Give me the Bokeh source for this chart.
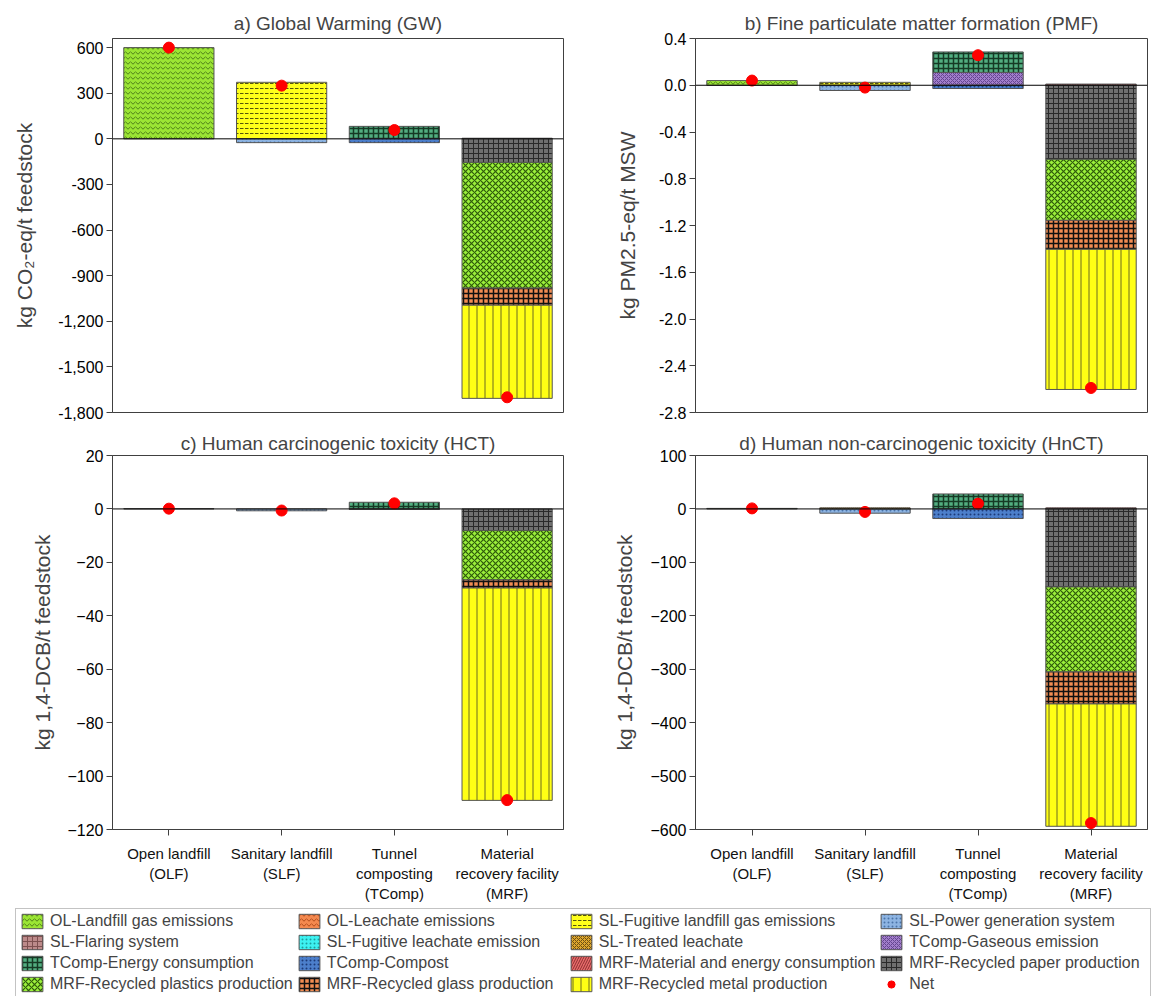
from bokeh.plotting import figure
from bokeh.models import (Range1d, FactorRange, FixedTicker, NumeralTickFormatter,
                          Span, Legend, LegendItem, ColumnDataSource)
from bokeh.layouts import column, row
from bokeh.embed import file_html
from bokeh.resources import INLINE

FONT = "Liberation Sans"

# ---------------- data ----------------
categories = ["Open landfill\n(OLF)", "Sanitary landfill\n(SLF)",
              "Tunnel\ncomposting\n(TComp)", "Material\nrecovery facility\n(MRF)"]

series = ["OL-Landfill gas emissions", "OL-Leachate emissions",
          "SL-Fugitive landfill gas emissions", "SL-Power generation system",
          "SL-Flaring system", "SL-Fugitive leachate emission", "SL-Treated leachate",
          "TComp-Gaseous emission", "TComp-Energy consumption", "TComp-Compost",
          "MRF-Material and energy consumption", "MRF-Recycled paper production",
          "MRF-Recycled plastics production", "MRF-Recycled glass production",
          "MRF-Recycled metal production"]

# values per series for [OLF, SLF, TComp, MRF]
gw_values = {
    "OL-Landfill gas emissions": [600, 0, 0, 0],
    "SL-Fugitive landfill gas emissions": [0, 372, 0, 0],
    "SL-Power generation system": [0, -25, 0, 0],
    "TComp-Energy consumption": [0, 0, 82, 0],
    "TComp-Compost": [0, 0, -25, 0],
    "MRF-Material and energy consumption": [0, 0, 0, 4],
    "MRF-Recycled paper production": [0, 0, 0, -155],
    "MRF-Recycled plastics production": [0, 0, 0, -827],
    "MRF-Recycled glass production": [0, 0, 0, -112],
    "MRF-Recycled metal production": [0, 0, 0, -613],
}
gw_net = [600, 350, 58, -1700]

pmf_values = {
    "OL-Landfill gas emissions": [0.04, 0, 0, 0],
    "SL-Fugitive landfill gas emissions": [0, 0.025, 0, 0],
    "SL-Power generation system": [0, -0.045, 0, 0],
    "TComp-Gaseous emission": [0, 0, 0.11, 0],
    "TComp-Energy consumption": [0, 0, 0.175, 0],
    "TComp-Compost": [0, 0, -0.028, 0],
    "MRF-Material and energy consumption": [0, 0, 0, 0.01],
    "MRF-Recycled paper production": [0, 0, 0, -0.634],
    "MRF-Recycled plastics production": [0, 0, 0, -0.522],
    "MRF-Recycled glass production": [0, 0, 0, -0.248],
    "MRF-Recycled metal production": [0, 0, 0, -1.199],
}
pmf_net = [0.04, -0.02, 0.257, -2.59]

hct_values = {
    "OL-Landfill gas emissions": [0.1, 0, 0, 0],
    "SL-Power generation system": [0, -0.7, 0, 0],
    "TComp-Energy consumption": [0, 0, 2.5, 0],
    "TComp-Compost": [0, 0, -0.2, 0],
    "MRF-Recycled paper production": [0, 0, 0, -8.1],
    "MRF-Recycled plastics production": [0, 0, 0, -18.5],
    "MRF-Recycled glass production": [0, 0, 0, -3.0],
    "MRF-Recycled metal production": [0, 0, 0, -79.5],
}
hct_net = [0.1, -0.6, 2.1, -109]

hnct_values = {
    "OL-Landfill gas emissions": [1.0, 0, 0, 0],
    "SL-Power generation system": [0, -8, 0, 0],
    "SL-Treated leachate": [0, 2, 0, 0],
    "TComp-Energy consumption": [0, 0, 28, 0],
    "TComp-Compost": [0, 0, -18, 0],
    "MRF-Material and energy consumption": [0, 0, 0, 2],
    "MRF-Recycled paper production": [0, 0, 0, -146],
    "MRF-Recycled plastics production": [0, 0, 0, -159],
    "MRF-Recycled glass production": [0, 0, 0, -60],
    "MRF-Recycled metal production": [0, 0, 0, -229],
}
hnct_net = [1, -5.6, 10, -588]

gw_ticks = [-1800, -1500, -1200, -900, -600, -300, 0, 300, 600]
pmf_ticks = [-2.8, -2.4, -2.0, -1.6, -1.2, -0.8, -0.4, 0.0, 0.4]
hct_ticks = [-120, -100, -80, -60, -40, -20, 0, 20]
hnct_ticks = [-600, -500, -400, -300, -200, -100, 0, 100]

# ---------------- styles ----------------
styles = {
    "OL-Landfill gas emissions": ("#9BE534", "horizontal_wave", "#4E7F18", 5, 1),
    "OL-Leachate emissions": ("#F4894F", "horizontal_wave", "#B04A1A", 5, 1),
    "SL-Fugitive landfill gas emissions": ("#FFFF1A", "horizontal_dash", "#55550A", 5, 1),
    "SL-Power generation system": ("#8DB4E2", "dot", "#4A73A8", 4, 1),
    "SL-Flaring system": ("#BC8A8A", "cross", "#7E5050", 5, 1),
    "SL-Fugitive leachate emission": ("#3DF2F2", "dot", "#1A9E9E", 4, 1),
    "SL-Treated leachate": ("#DDA62E", "diagonal_cross", "#6E5010", 4, 1),
    "TComp-Gaseous emission": ("#A27ECB", "diagonal_cross", "#654690", 4, 1),
    "TComp-Energy consumption": ("#52AE80", "cross", "#163A25", 5, 1.5),
    "TComp-Compost": ("#4C7FCB", "dot", "#1C3A78", 4, 1),
    "MRF-Material and energy consumption": ("#E86B6B", "right_diagonal_line", "#8B2F2F", 5, 1),
    "MRF-Recycled paper production": ("#707070", "cross", "#2A2A2A", 5, 1),
    "MRF-Recycled plastics production": ("#9BF03A", "diagonal_cross", "#2E5A0A", 6, 1.2),
    "MRF-Recycled glass production": ("#F28C52", "cross", "#111111", 5, 1.5),
    "MRF-Recycled metal production": ("#FFFF14", "vertical_line", "#6B6B20", 8, 1),
}


def style_kwargs(name):
    fill, hatch, hcol, hscale, hweight = styles[name]
    return dict(fill_color=fill, hatch_pattern=hatch, hatch_color=hcol,
                hatch_scale=hscale, hatch_weight=hweight,
                line_color="#555555", line_width=1)


def make_panel(title, values, net, ylabel, yr, ticks, fmt, show_x,
               width, height, bl, br, bt, bb, title_standoff, label_standoff):
    p = figure(x_range=FactorRange(*categories), y_range=Range1d(*yr),
               width=width, height=height, output_backend="svg",
               toolbar_location=None, tools="",
               min_border_left=bl, min_border_right=br,
               min_border_top=bt, min_border_bottom=bb)
    p.background_fill_color = "white"
    p.border_fill_color = "white"
    p.outline_line_color = "#404040"
    p.outline_line_width = 1
    p.xgrid.visible = False
    p.ygrid.visible = False

    p.title.text = title
    p.title.align = "center"
    p.title.text_font = FONT
    p.title.text_font_size = "19px"
    p.title.text_font_style = "normal"
    p.title.standoff = title_standoff

    pos = [0.0] * len(categories)
    neg = [0.0] * len(categories)
    for name in series:
        if name not in values:
            continue
        xs, bottoms, tops = [], [], []
        for i, v in enumerate(values[name]):
            if v == 0:
                continue
            if v > 0:
                b = pos[i]
                pos[i] = b + v
            else:
                b = neg[i]
                neg[i] = b + v
            xs.append(categories[i])
            bottoms.append(b)
            tops.append(b + v)
        if xs:
            src = ColumnDataSource(dict(x=xs, bottom=bottoms, top=tops))
            p.vbar(x="x", bottom="bottom", top="top", width=0.8, source=src,
                   **style_kwargs(name))

    p.add_layout(Span(location=0, dimension="width", line_color="black", line_width=1))
    p.scatter(x=categories, y=net, size=11, fill_color="#FF0000", line_color="#FF0000")

    yax = p.yaxis[0]
    yax.ticker = FixedTicker(ticks=ticks)
    if fmt:
        yax.formatter = NumeralTickFormatter(format=fmt)
    yax.axis_label = ylabel
    yax.axis_label_text_font = FONT
    yax.axis_label_text_font_size = "21px"
    yax.axis_label_text_font_style = "normal"
    yax.axis_label_standoff = label_standoff
    yax.major_label_text_font = FONT
    yax.major_label_text_font_size = "16px"
    yax.major_label_text_color = "black"
    yax.major_tick_in = 0
    yax.major_tick_out = 6
    yax.minor_tick_in = 0
    yax.minor_tick_out = 0
    yax.axis_line_color = "#404040"
    yax.major_tick_line_color = "#404040"
    yax.major_label_standoff = 3

    xax = p.xaxis[0]
    if show_x:
        xax.major_label_text_font = FONT
        xax.major_label_text_font_size = "15px"
        xax.major_label_text_color = "#111111"
        xax.major_tick_in = 0
        xax.major_tick_out = 6
        xax.axis_line_color = "#404040"
        xax.major_tick_line_color = "#404040"
        xax.major_label_standoff = 9
    else:
        xax.visible = False
    return p


pa = make_panel("a) Global Warming (GW)", gw_values, gw_net,
                "kg CO\u2082-eq/t feedstock", (-1800, 660), gw_ticks, "0,0", False,
                580, 428, 112, 17, 38, 16, 9, 19)
pb = make_panel("b) Fine particulate matter formation (PMF)", pmf_values, pmf_net,
                "kg PM2.5-eq/t MSW", (-2.8, 0.4), pmf_ticks, "0.0", False,
                575, 428, 115, 8, 38, 16, 9, 17)
pc = make_panel("c) Human carcinogenic toxicity (HCT)", hct_values, hct_net,
                "kg 1,4-DCB/t feedstock", (-120, 20), hct_ticks, None, True,
                580, 477, 112, 17, 27, 76, 3, 10)
pd_ = make_panel("d) Human non-carcinogenic toxicity (HnCT)", hnct_values, hnct_net,
                 "kg 1,4-DCB/t feedstock", (-600, 100), hnct_ticks, None, True,
                 575, 477, 115, 8, 27, 76, 3, 11)

# ---------------- legend ----------------
lf = figure(width=1155, height=91, output_backend="svg", toolbar_location=None, tools="",
            x_range=Range1d(0, 1), y_range=Range1d(0, 1),
            x_axis_location=None, y_axis_location=None,
            min_border_left=12, min_border_right=0, min_border_top=0, min_border_bottom=0)
lf.outline_line_color = None
lf.xgrid.visible = False
lf.ygrid.visible = False
legend_dummy_x = [-5]
legend_dummy_y = [-5]
items = []
for name in series:
    r = lf.vbar(x=legend_dummy_x, top=legend_dummy_y, bottom=legend_dummy_y, width=1,
                **style_kwargs(name))
    items.append(LegendItem(label=name, renderers=[r]))
rn = lf.scatter(x=legend_dummy_x, y=legend_dummy_y, size=11,
                fill_color="#FF0000", line_color="#FF0000")
items.append(LegendItem(label="Net", renderers=[rn]))
legend = Legend(items=items, ncols=4, orientation="horizontal", location="top_left",
                margin=3, padding=3, spacing=3, glyph_width=26, glyph_height=18,
                label_height=18, label_width=238, label_standoff=5,
                label_text_font=FONT, label_text_font_size="16px",
                border_line_color="#888888", border_line_width=1,
                background_fill_color="white", background_fill_alpha=1)
lf.add_layout(legend, "center")

layout = column(row(pa, pb), row(pc, pd_), lf)
open("out.html", "w").write(file_html(layout, INLINE))
